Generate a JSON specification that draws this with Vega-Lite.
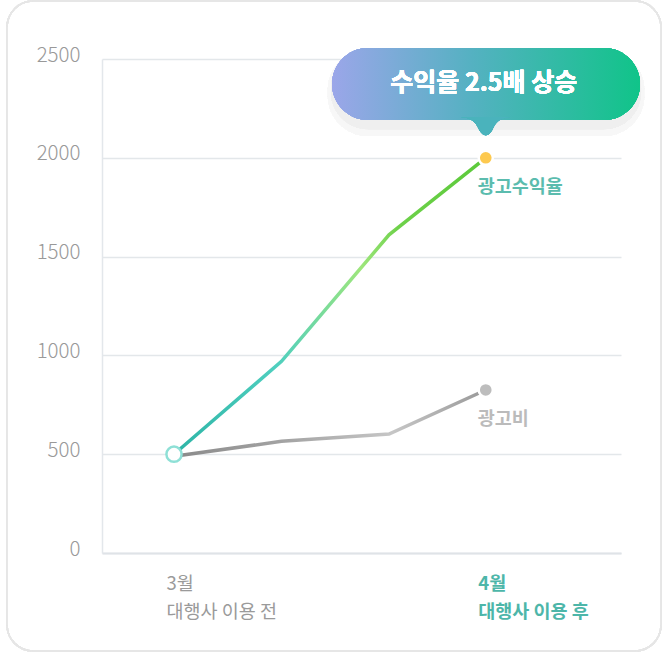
{
  "$schema": "https://vega.github.io/schema/vega-lite/v6.json",
  "width": 519,
  "height": 494,
  "autosize": "none",
  "padding": {"left": 102, "top": 59, "right": 47, "bottom": 101},
  "background": "#ffffff",
  "config": {
    "font": "Noto Sans CJK KR",
    "view": {"stroke": null}
  },
  "datasets": {
    "series": [
      {"step": 0, "kind": "광고수익율", "value": 500},
      {"step": 1, "kind": "광고수익율", "value": 970},
      {"step": 2, "kind": "광고수익율", "value": 1610},
      {"step": 2.9, "kind": "광고수익율", "value": 2000},
      {"step": 0, "kind": "광고비", "value": 490},
      {"step": 1, "kind": "광고비", "value": 565},
      {"step": 2, "kind": "광고비", "value": 602},
      {"step": 2.9, "kind": "광고비", "value": 825}
    ]
  },
  "data": {"name": "series"},
  "encoding": {
    "x": {
      "field": "step",
      "type": "quantitative",
      "scale": {"domain": [-0.6698, 4.158], "nice": false, "zero": false},
      "axis": {
        "title": null,
        "values": [0, 2.9],
        "grid": false,
        "ticks": false,
        "domainColor": "#dfe3e7",
        "domainWidth": 2,
        "labelExpr": "datum.value == 0 ? ['3월', '대행사 이용 전'] : ['4월', '대행사 이용 후']",
        "labelAlign": "left",
        "labelOffset": -8,
        "labelBaseline": "top",
        "labelPadding": 21,
        "labelLineHeight": 28,
        "labelFontSize": 18.5,
        "labelColor": {"condition": {"test": "datum.value > 0", "value": "#4db6a9"}, "value": "#9a9a9a"},
        "labelFontWeight": {"condition": {"test": "datum.value > 0", "value": "bold"}, "value": "normal"}
      }
    },
    "y": {
      "field": "value",
      "type": "quantitative",
      "scale": {"domain": [0, 2500], "nice": false},
      "axis": {
        "title": null,
        "values": [0, 500, 1000, 1500, 2000, 2500],
        "format": "d",
        "ticks": false,
        "gridColor": "#e3e7ea",
        "gridWidth": 1.5,
        "domainColor": "#e3e7eb",
        "domainWidth": 1.5,
        "labelPadding": 22,
        "labelFontSize": 20.5,
        "labelFontWeight": 300,
        "labelColor": "#999999",
        "labelBaseline": "alphabetic",
        "labelOffset": 2
      }
    }
  },
  "layer": [
    {
      "mark": {"type": "rect", "fill": null, "stroke": "#e6e6e6", "strokeWidth": 1.5, "cornerRadius": 26},
      "encoding": {
        "x": {"datum": -1.553, "type": "quantitative"},
        "x2": {"datum": 4.53},
        "y": {"datum": 2793, "type": "quantitative"},
        "y2": {"datum": -496}
      }
    },
    {
      "mark": {"type": "rect", "fill": "#f7f7f7", "cornerRadius": 40},
      "encoding": {
        "x": {"datum": 1.43, "type": "quantitative"},
        "x2": {"datum": 4.375},
        "y": {"datum": 2545, "type": "quantitative"},
        "y2": {"datum": 2110}
      }
    },
    {
      "mark": {"type": "rect", "fill": "#efefef", "cornerRadius": 37},
      "encoding": {
        "x": {"datum": 1.46, "type": "quantitative"},
        "x2": {"datum": 4.345},
        "y": {"datum": 2535, "type": "quantitative"},
        "y2": {"datum": 2145}
      }
    },
    {
      "mark": {
        "type": "rect",
        "cornerRadius": 36,
        "fill": {
          "gradient": "linear",
          "x1": 0, "y1": 0, "x2": 1, "y2": 0,
          "stops": [
            {"offset": 0, "color": "#9ba6e9"},
            {"offset": 0.45, "color": "#55b1c2"},
            {"offset": 1, "color": "#10c489"}
          ]
        }
      },
      "encoding": {
        "x": {"datum": 1.47, "type": "quantitative"},
        "x2": {"datum": 4.335},
        "y": {"datum": 2556, "type": "quantitative"},
        "y2": {"datum": 2191}
      }
    },
    {
      "mark": {
        "type": "point",
        "filled": true,
        "shape": "M -1 -0.4 C -0.55 -0.36 -0.4 -0.2 -0.26 0.12 Q 0 0.55 0.26 0.12 C 0.4 -0.2 0.55 -0.36 1 -0.4 Z",
        "size": 2500,
        "color": "#4ab3bc",
        "opacity": 1
      },
      "encoding": {
        "x": {"datum": 2.9, "type": "quantitative"},
        "y": {"datum": 2156, "type": "quantitative"}
      }
    },
    {
      "mark": {"type": "text", "text": "수익율 2.5배 상승", "color": "#ffffff", "fontSize": 25, "fontWeight": "bold", "align": "center", "baseline": "middle", "dx": -2},
      "encoding": {
        "x": {"datum": 2.9, "type": "quantitative"},
        "y": {"datum": 2378, "type": "quantitative"}
      }
    },
    {
      "transform": [{"filter": "datum.kind == '광고비'"}],
      "mark": {
        "type": "line",
        "strokeWidth": 3.5,
        "color": {
          "gradient": "linear",
          "x1": 0, "y1": 0, "x2": 1, "y2": 0,
          "stops": [
            {"offset": 0, "color": "#8a8a8a"},
            {"offset": 0.35, "color": "#a3a3a3"},
            {"offset": 0.7, "color": "#c6c6c6"},
            {"offset": 1, "color": "#999999"}
          ]
        }
      }
    },
    {
      "transform": [{"filter": "datum.kind == '광고수익율'"}],
      "mark": {
        "type": "line",
        "strokeWidth": 3.5,
        "color": {
          "gradient": "linear",
          "x1": 0, "y1": 0, "x2": 1, "y2": 0,
          "stops": [
            {"offset": 0, "color": "#2db4a6"},
            {"offset": 0.33, "color": "#4fcfbf"},
            {"offset": 0.6, "color": "#9ee67c"},
            {"offset": 0.72, "color": "#6ed14a"},
            {"offset": 1, "color": "#5bc93a"}
          ]
        }
      }
    },
    {
      "transform": [{"filter": "datum.kind == '광고수익율' && datum.step == 0"}],
      "mark": {"type": "point", "shape": "circle", "filled": true, "fill": "#ffffff", "stroke": "#8ee0d6", "strokeWidth": 2.5, "size": 230, "opacity": 1}
    },
    {
      "transform": [{"filter": "datum.step > 2.5"}],
      "mark": {"type": "point", "shape": "circle", "filled": true, "stroke": "#ffffff", "strokeWidth": 2.5, "size": 200, "opacity": 1},
      "encoding": {
        "fill": {
          "field": "kind",
          "type": "nominal",
          "scale": {"domain": ["광고수익율", "광고비"], "range": ["#fdc94f", "#bdbdbd"]},
          "legend": null
        }
      }
    },
    {
      "transform": [{"filter": "datum.step > 2.5"}],
      "mark": {"type": "text", "align": "left", "baseline": "middle", "dx": -8, "dy": 29, "fontSize": 18.5, "fontWeight": "bold"},
      "encoding": {
        "text": {"field": "kind"},
        "color": {
          "field": "kind",
          "type": "nominal",
          "scale": {"domain": ["광고수익율", "광고비"], "range": ["#5bbcae", "#bbbbbb"]},
          "legend": null
        }
      }
    }
  ]
}
